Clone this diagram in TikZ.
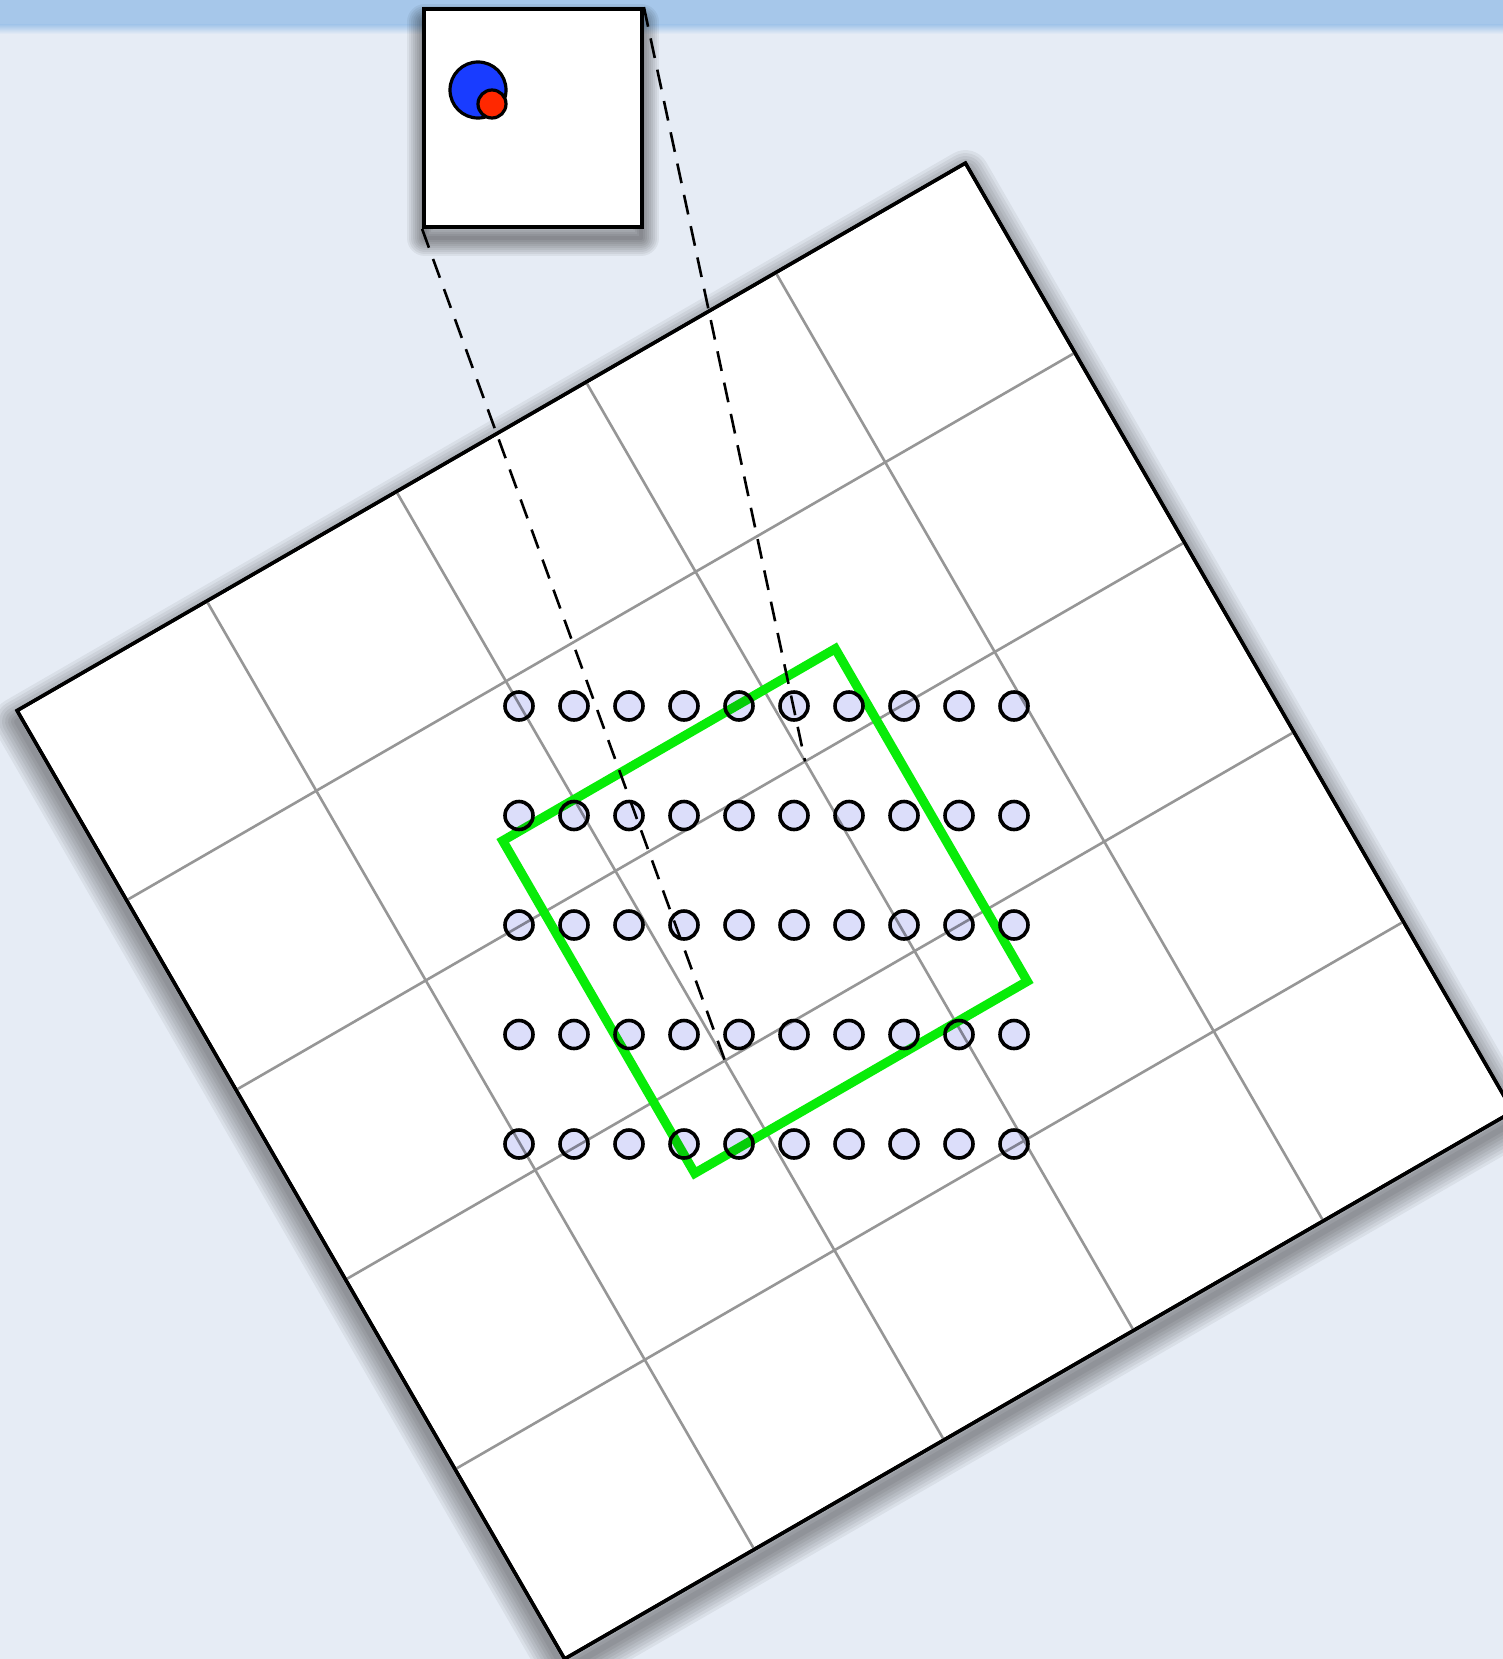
\documentclass[tikz,border=0pt]{standalone}
\usetikzlibrary{calc}
\definecolor{paper}{RGB}{230,236,245}
\definecolor{band}{RGB}{166,199,234}
\definecolor{gridgray}{RGB}{150,150,150}
\definecolor{lav}{RGB}{220,222,250}
\definecolor{brightgreen}{RGB}{8,236,8}
\definecolor{dotblue}{RGB}{25,60,255}
\definecolor{dotred}{RGB}{255,40,0}
\begin{document}
\begin{tikzpicture}[x=0.5pt,y=-0.5pt,
  gridline/.style={draw=gridgray,line width=1.3pt},
  sheet/.style={draw=black,fill=white,line width=1.7pt,line join=miter},
  shadowlayer/.style={draw=black,draw opacity=0.055,line join=round},
  window/.style={draw=brightgreen,line width=4.6pt,line join=miter},
  sample/.style={draw=black,fill=lav,line width=1.8pt,blend mode=multiply},
  proj/.style={draw=black,line width=1.3pt,dash pattern=on 10pt off 6pt},
  insetbox/.style={draw=black,fill=white,line width=1.9pt,minimum size=109pt,inner sep=0pt},
  dot/.style={draw=black,line width=1.6pt}]
\useasboundingbox (0,0) rectangle (1503,1659);
\clip (0,0) rectangle (1503,1659);
% background paper
\fill[paper] (0,0) rectangle (1503,1659);
\fill[band] (0,0) rectangle (1503,25);
\shade[top color=band,bottom color=paper] (0,25) rectangle (1503,34);
% shadow of big sheet
\begin{scope}[shift={(765,922)},rotate=30]
  \foreach \w in {24,21,...,3}
    \draw[shadowlayer,line width=\w pt] (-547.5,-547.5) -- (547.5,-547.5) -- (547.5,547.5) -- (-547.5,547.5) -- cycle;
\end{scope}
% big sheet with grid
\begin{scope}[shift={(765,911)},rotate=30]
  \draw[sheet] (-547.5,-547.5) -- (547.5,-547.5) -- (547.5,547.5) -- (-547.5,547.5) -- cycle;
  \foreach \k in {-328.5,-109.5,109.5,328.5} {
    \draw[gridline] (\k,-547.5) -- (\k,547.5);
    \draw[gridline] (-547.5,\k) -- (547.5,\k);
  }
  \draw[sheet,fill=none] (-547.5,-547.5) -- (547.5,-547.5) -- (547.5,547.5) -- (-547.5,547.5) -- cycle;
  \draw[window] (-192,-192) -- (192,-192) -- (192,192) -- (-192,192) -- cycle;
  \coordinate (gA) at (-109.5,109.5);
  \coordinate (gB) at (109.5,-109.5);
\end{scope}
% sample points
\foreach \j in {0,...,4}
  \foreach \i in {0,...,9}
    \draw[sample] ({519+55*\i},{706+109.5*\j}) circle[radius=14];
% inset shadow
\begin{scope}[shift={(533,130)}]
  \foreach \w in {18,16,...,2}
    \draw[shadowlayer,line width=\w pt] (-108,-108) -- (108,-108) -- (108,108) -- (-108,108) -- cycle;
\end{scope}
% inset
\node[insetbox] (inset) at (533,118) {};
\draw[dot,fill=dotblue] (478,90) circle[radius=28];
\draw[dot,fill=dotred] (492,104) circle[radius=14];
% projection lines
\draw[proj] (inset.south west) -- (gA);
\draw[proj] (inset.north east) -- (gB);
\end{tikzpicture}
\end{document}
